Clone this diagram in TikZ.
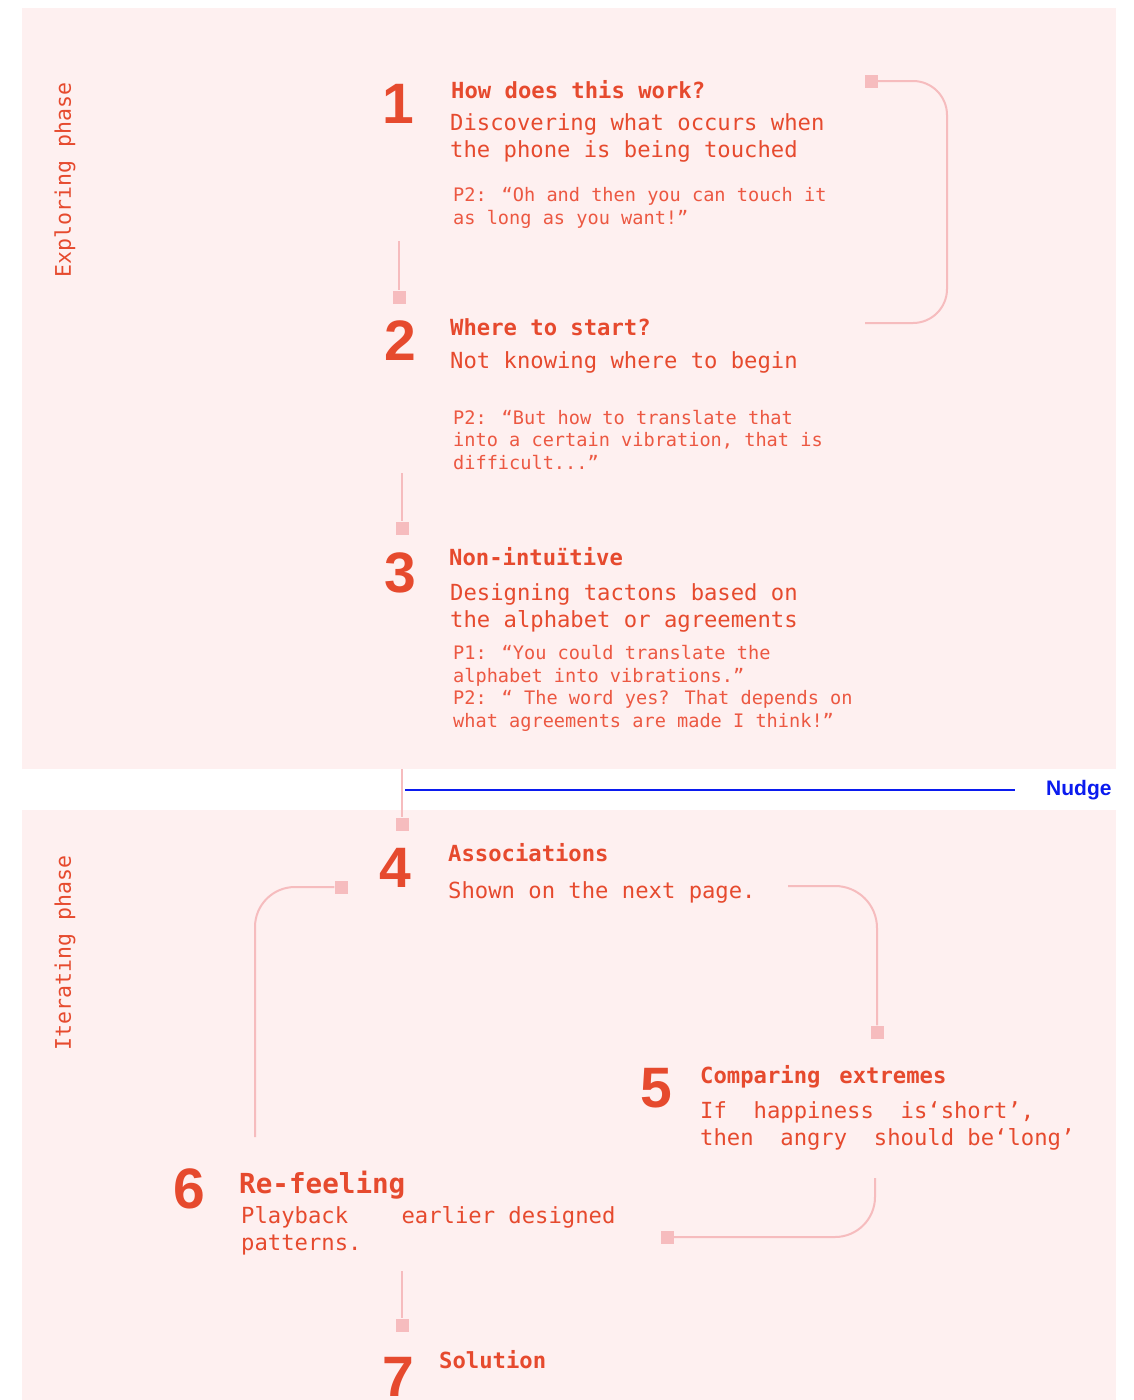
\documentclass[tikz,border=0pt]{standalone}
\usepackage{fontspec}
\newfontfamily\monofont{DejaVu Sans Mono}
\newfontfamily\numfont{Liberation Sans}
\definecolor{ink}{HTML}{E64A2E}
\definecolor{quoteink}{HTML}{EC5842}
\definecolor{conn}{HTML}{F6BCBE}
\definecolor{panel}{HTML}{FEF0F0}
\definecolor{nudgeblue}{HTML}{0B1BEF}
\begin{document}
\begin{tikzpicture}[x=1pt,y=-1pt,
  num/.style={font=\numfont\bfseries\fontsize{57}{57}\selectfont, text=ink, anchor=base, inner sep=0},
  head/.style={font=\monofont\bfseries\fontsize{22.2}{27}\selectfont, text=ink, anchor=base west, inner sep=0},
  % multi-line texts are placed by the baseline of their last line
  body/.style={font=\monofont\fontsize{22.2}{27}\selectfont, text=ink, anchor=base west, inner sep=0, align=left},
  quote/.style={font=\monofont\fontsize{18.6}{22.5}\selectfont, text=quoteink, anchor=base west, inner sep=0, align=left},
  phase/.style={font=\monofont\fontsize{21.5}{26}\selectfont, text=ink, rotate=90, inner sep=0},
  sq/.style={fill=conn, draw=none, minimum size=13pt, inner sep=0},
  link/.style={draw=conn, line width=2pt, rounded corners=40pt},
  tag/.style={font=\numfont\bfseries\fontsize{21}{21}\selectfont, text=nudgeblue, anchor=west, inner sep=0}
]
\useasboundingbox (0,0) rectangle (1133,1400);
\fill[white] (0,0) rectangle (1133,1400);
% the two phase panels
\fill[panel] (22,8) rectangle (1116,769);
\fill[panel] (22,810) rectangle (1116,1400);

\node[phase] (explore) at (65,180) {Exploring phase};
\node[phase] (iterate) at (65,953) {Iterating phase};

% nudge marker between the phases
\coordinate (nudgestart) at (405,790);
\node[tag] (nudge) at (1046,790) {Nudge};
\draw[nudgeblue, line width=1.6pt] (nudgestart) -- ([xshift=-31pt]nudge.west);

% step 1
\node[num] (n1) at (398,123) {1};
\node[head] (h1) at (451,98) {How does this work?};
\node[body] (b1) at (450,157) {Discovering what occurs when\\the phone is being touched};
\node[quote] (q1) at (453,224) {P2: “Oh and then you can touch it\\as long as you want!”};

% step 2
\node[num] (n2) at (400,360) {2};
\node[head] (h2) at (450,335) {Where to start?};
\node[body] (b2) at (450,368) {Not knowing where to begin};
\node[quote] (q2) at (453,469) {P2: “But how to translate that\\into a certain vibration, that is\\difficult...”};

% step 3
\node[num] (n3) at (400,592) {3};
\node[head] (h3) at (449,565) {Non-intuïtive};
\node[body] (b3) at (450,627) {Designing tactons based on\\the alphabet or agreements};
\node[quote] (q3) at (453,727) {P1: “You could translate the\\alphabet into vibrations.”\\P2: “ The word yes? That depends on\\what agreements are made I think!”};

% step 4
\node[num] (n4) at (395,887) {4};
\node[head] (h4) at (448,861) {Associations};
\node[body] (b4) at (448,898) {Shown on the next page.};

% step 5
\node[num] (n5) at (656,1107) {5};
\node[head] (h5) at (700,1083) {Comparing\hspace{19pt}extremes};
\node[body] (b5) at (700,1145) {If~~happiness~~is‘short’,\\then~~angry~~should be‘long’};

% step 6
\node[num] (n6) at (189,1208) {6};
\node[head, font=\monofont\bfseries\fontsize{27.6}{30}\selectfont] (h6) at (239,1193) {Re-feeling};
\node[body] (b6) at (241,1250) {Playback~~~~earlier designed\\patterns.};

% step 7
\node[num] (n7) at (398,1396) {7};
\node[head] (h7) at (439,1368) {Solution};

% connector ends
\node[sq] (s1) at (871,81) {};
\node[sq] (s2) at (399,297) {};
\node[sq] (s3) at (402,528) {};
\node[sq] (s4) at (402,824) {};
\node[sq] (s4b) at (341,887) {};
\node[sq] (s5) at (877,1032) {};
\node[sq] (s6) at (667,1237) {};
\node[sq] (s7) at (402,1325) {};

\coordinate (t1r) at (865,323);
\coordinate (t12) at (399,241);
\coordinate (t23) at (402,473);
\coordinate (t34) at (402,769);
\coordinate (t45) at (788,886);
\coordinate (t56) at (875,1178);
\coordinate (t64) at (255,1137);
\coordinate (t67) at (402,1271);

% connectors
\draw[link, rounded corners=34pt] (s1.center) -- (947,81) -- (947,323) -- (t1r);
\draw[link] (t12) -- (s2);
\draw[link] (t23) -- (s3);
\draw[link] (t34) -- (s4);
\draw[link, rounded corners=42pt] (t45) -- (877,886) -- (s5);
\draw[link] (t56) -- (875,1237) -- (s6);
\draw[link] (t64) -- (255,887) -- (s4b);
\draw[link] (t67) -- (s7);
\node[sq] at (s1) {};
\end{tikzpicture}
\end{document}
